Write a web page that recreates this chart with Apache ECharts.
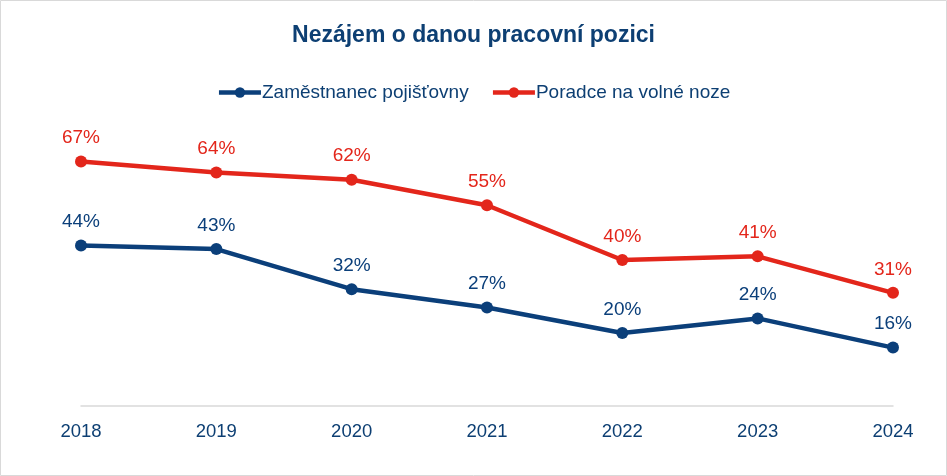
<!DOCTYPE html>
<html><head><meta charset="utf-8">
<script src="https://cdn.jsdelivr.net/npm/echarts@6/dist/echarts.min.js"></script>
<style>html,body{margin:0;padding:0;background:#fff}#c{width:947px;height:476px}</style>
</head><body><div id="c"></div>
<script>
const categories = ['2018','2019','2020','2021','2022','2023','2024'];
const zamestnanec = [44,43,32,27,20,24,16];
const poradce = [67,64,62,55,40,41,31];
const seriesNames = ['Zaměstnanec pojišťovny','Poradce na volné noze'];
const blue = '#0b3f7a', red = '#e3261b', textBlue = '#0d3f73';
const chart = echarts.init(document.getElementById('c'));
function mk(name, data, color){
  return {name, type:'line', data, color, symbol:'circle', symbolSize:12,
    lineStyle:{width:4.5,color}, itemStyle:{color},
    label:{show:true, position:'top', distance:8, formatter:p=>p.value+'%',
      color, fontSize:19, fontFamily:'Liberation Sans, Arial'}};
}
chart.setOption({
  animation:false,
  title:{text:'Nezájem o danou pracovní pozici', left:'center', top:19,
    textStyle:{color:textBlue, fontSize:23, fontWeight:'bold', fontFamily:'Liberation Sans, Arial'}},
  legend:{top:78, left:'center', itemWidth:42, itemHeight:13, itemGap:22,
    lineStyle:{width:4.5},
    textStyle:{color:textBlue, fontSize:19, fontFamily:'Liberation Sans, Arial', padding:[0,0,0,-4]}},
  graphic:[{type:'rect', shape:{x:0.5,y:0.5,width:946,height:475}, style:{fill:'none', stroke:'#d9d9d9', lineWidth:1}}],
  grid:{left:81, right:54, top:114, bottom:70},
  xAxis:{type:'category', data:categories, boundaryGap:false,
    axisLine:{lineStyle:{color:'#d9d9d9', width:1.5}}, axisTick:{show:false},
    axisLabel:{color:textBlue, fontSize:18.5, margin:16, fontFamily:'Liberation Sans, Arial'}},
  yAxis:{type:'value', min:0, max:80, show:false, splitLine:{show:false}},
  series:[mk(seriesNames[0], zamestnanec, blue), mk(seriesNames[1], poradce, red)]
});
</script></body></html>
